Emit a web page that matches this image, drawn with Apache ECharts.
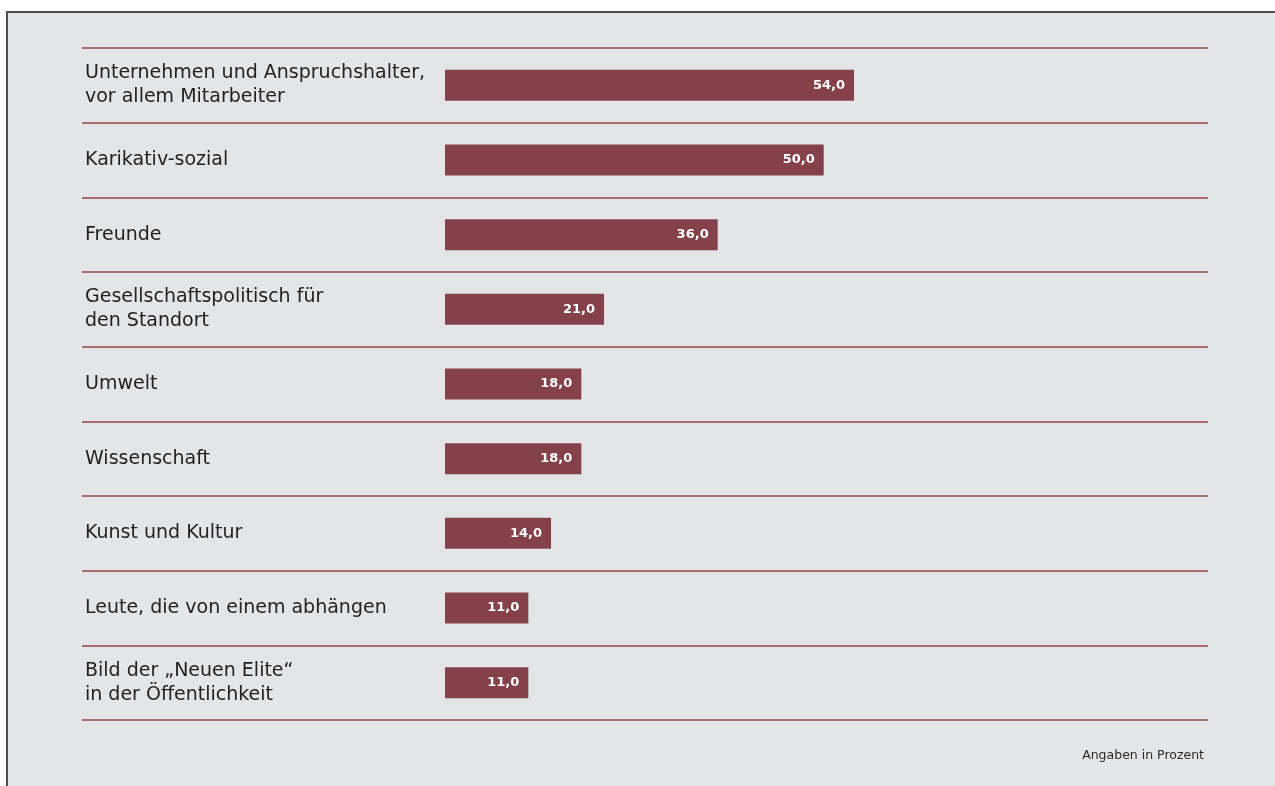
<!DOCTYPE html>
<html>
<head>
<meta charset="utf-8">
<script src="https://cdn.jsdelivr.net/npm/echarts@6/dist/echarts.min.js"></script>
<style>
  html, body { margin: 0; padding: 0; background: #ffffff; overflow: hidden; }
  #frame {
    position: absolute; left: 6px; top: 11px; width: 1290px; height: 800px;
    background: #e4e5e7; border: 2px solid #4e4e4e; box-sizing: border-box;
  }
  #chart { position: absolute; left: 0; top: 0; width: 1275px; height: 786px; }
</style>
</head>
<body>
<div id="frame"></div>
<div id="chart"></div>
<script>
// Categories (top to bottom) and percentages
const categories = [
  'Unternehmen und Anspruchshalter,\nvor allem Mitarbeiter',
  'Karikativ-sozial',
  'Freunde',
  'Gesellschaftspolitisch für\nden Standort',
  'Umwelt',
  'Wissenschaft',
  'Kunst und Kultur',
  'Leute, die von einem abhängen',
  'Bild der „Neuen Elite“\nin der Öffentlichkeit'
];
const values = [54, 50, 36, 21, 18, 18, 14, 11, 11];
const unitNote = 'Angaben in Prozent';

const chart = echarts.init(document.getElementById('chart'), null, { renderer: 'canvas' });

// The value axis spans the full row width so that the row separators run
// under the labels too; zero sits where the bars start.
const axisMin = -47.93;
const axisMax = 100.74;
const font = 'DejaVu Sans';

chart.setOption({
  backgroundColor: 'transparent',
  animation: false,
  title: {
    text: unitNote,
    right: 66,
    top: 744,
    textStyle: { fontFamily: font, fontSize: 12.5, fontWeight: 'normal', color: '#2a2a2a' }
  },
  grid: { left: 82, right: 67, top: 48, bottom: 66, containLabel: false },
  xAxis: {
    type: 'value', min: axisMin, max: axisMax, show: false
  },
  yAxis: {
    type: 'category',
    data: categories,
    inverse: true,
    axisLine: { show: false },
    axisTick: { show: false },
    splitLine: { show: true, lineStyle: { color: '#9a434c', width: 1.5 } },
    axisLabel: {
      inside: true,
      margin: 3,
      fontFamily: font,
      fontSize: 19,
      lineHeight: 24,
      padding: [3, 0, 0, 0],
      color: '#222222'
    }
  },
  series: [{
    type: 'bar',
    data: values,
    barWidth: 31,
    itemStyle: { color: '#84414a' },
    silent: true,
    label: {
      show: true,
      position: 'insideRight',
      distance: 9,
      color: '#ffffff',
      fontFamily: font,
      fontWeight: 'bold',
      fontSize: 13,
      formatter: p => p.value.toFixed(1).replace('.', ',')
    }
  }]
});
</script>
</body>
</html>
